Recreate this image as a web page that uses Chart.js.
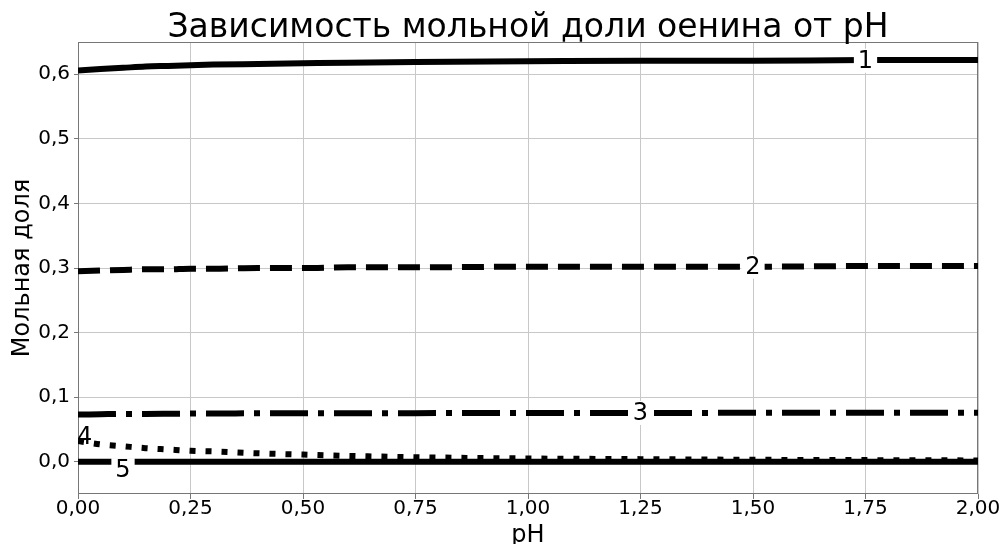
<!DOCTYPE html>
<html>
<head>
<meta charset="utf-8">
<script src="https://cdn.jsdelivr.net/npm/chart.js@4/dist/chart.umd.min.js"></script>
<style>
html,body{margin:0;padding:0;background:#fff;}
#wrap{width:1007px;height:544px;position:relative;}
</style>
</head>
<body>
<div id="wrap"><canvas id="c" width="1007" height="544"></canvas></div>
<script>
// ---- data ----
const phValues = [0, 0.05, 0.1, 0.15, 0.2, 0.25, 0.3, 0.4, 0.5, 0.6, 0.75, 1.0, 1.25, 1.5, 1.75, 2.0];
const series1 = [0.606, 0.608, 0.610, 0.612, 0.613, 0.614, 0.615, 0.616, 0.617, 0.618, 0.619, 0.620, 0.621, 0.621, 0.622, 0.622];
const series2 = [0.295, 0.296, 0.297, 0.298, 0.298, 0.299, 0.299, 0.300, 0.300, 0.301, 0.301, 0.302, 0.302, 0.302, 0.303, 0.303];
const series3 = [0.073, 0.0735, 0.074, 0.074, 0.0742, 0.0745, 0.0745, 0.075, 0.075, 0.075, 0.0752, 0.0755, 0.0755, 0.0757, 0.0757, 0.0758];
const series4 = [0.032, 0.027, 0.024, 0.021, 0.019, 0.017, 0.016, 0.013, 0.011, 0.009, 0.007, 0.005, 0.004, 0.003, 0.0025, 0.002];
const series5 = [0, 0, 0, 0, 0, 0, 0, 0, 0, 0, 0, 0, 0, 0, 0, 0];
const seriesNames = ['1', '2', '3', '4', '5'];
const xTicks = [0, 0.25, 0.5, 0.75, 1.0, 1.25, 1.5, 1.75, 2.0];
const yTicks = [0, 0.1, 0.2, 0.3, 0.4, 0.5, 0.6];
const titleText = 'Зависимость мольной доли оенина от pH';
// inline label anchors (data coords)
const labelX = [1.75, 1.5, 1.25, 0.015, 0.1];
const labelY = [0.621, 0.302, 0.0755, 0.038, -0.013];

const FONT = "'DejaVu Sans', sans-serif";
const toPts = ys => phValues.map((x, i) => ({x: x, y: ys[i]}));
const allSeries = [series1, series2, series3, series4, series5];
const dashes = [[], [22, 10], [38, 10, 6, 10], [6, 10], []];

const datasets = allSeries.map((s, i) => ({
  label: seriesNames[i],
  data: toPts(s),
  borderColor: '#000',
  borderWidth: 6,
  borderDash: dashes[i],
  borderCapStyle: 'butt',
  pointRadius: 0,
  fill: false,
  cubicInterpolationMode: 'monotone'
}));

const frame = {
  id: 'frame',
  beforeDatasetsDraw(chart) {
    const {ctx, chartArea: a} = chart;
    ctx.save();
    ctx.strokeStyle = '#777';
    ctx.lineWidth = 1;
    ctx.strokeRect(a.left + 0.5, a.top + 0.5, a.right - a.left - 1, a.bottom - a.top - 1);
    ctx.restore();
  }
};

const plotTitle = {
  id: 'plotTitle',
  afterDraw(chart) {
    const {ctx, chartArea: a} = chart;
    ctx.save();
    ctx.font = '33px ' + FONT;
    ctx.fillStyle = '#000';
    ctx.textAlign = 'center';
    ctx.textBaseline = 'alphabetic';
    ctx.fillText(titleText, (a.left + a.right) / 2, 37);
    ctx.restore();
  }
};

const inlineLabels = {
  id: 'inlineLabels',
  afterDatasetsDraw(chart) {
    const {ctx} = chart;
    const xs = chart.scales.x, ys = chart.scales.y;
    ctx.save();
    ctx.font = '24px ' + FONT;
    ctx.textAlign = 'center';
    ctx.textBaseline = 'middle';
    seriesNames.forEach((t, i) => {
      const px = xs.getPixelForValue(labelX[i]);
      const py = ys.getPixelForValue(labelY[i]);
      const w = ctx.measureText(t).width;
      if (i !== 3) {
        ctx.fillStyle = '#fff';
        ctx.fillRect(px - w / 2 - 4, py - 12, w + 8, 24);
      }
      ctx.fillStyle = '#000';
      ctx.fillText(t, px, py + 1);
    });
    ctx.restore();
  }
};

new Chart(document.getElementById('c'), {
  type: 'line',
  data: {datasets},
  options: {
    responsive: false,
    animation: false,
    layout: {padding: {left: 0, right: 29, top: 42, bottom: 0}},
    plugins: {
      legend: {display: false},
      tooltip: {enabled: false},
      title: {display: false}
    },
    scales: {
      x: {
        type: 'linear',
        min: 0, max: 2,
        afterBuildTicks: s => { s.ticks = xTicks.map(v => ({value: v})); },
        afterFit: s => { s.height = 50; },
        ticks: {
          color: '#000',
          font: {family: FONT, size: 20},
          padding: -2,
          maxRotation: 0,
          callback: v => v.toFixed(2).replace('.', ',')
        },
        grid: {color: '#c8c8c8', lineWidth: 1, tickLength: 5, tickColor: '#777'},
        border: {display: false},
        title: {display: true, text: 'pH', color: '#000', font: {family: FONT, size: 24}, padding: {top: -4, bottom: -6}}
      },
      y: {
        type: 'linear',
        min: -0.05, max: 0.65,
        afterBuildTicks: s => { s.ticks = yTicks.map(v => ({value: v})); },
        afterFit: s => { s.width = 78; },
        ticks: {
          color: '#000',
          font: {family: FONT, size: 20},
          padding: 4,
          callback: v => v.toFixed(1).replace('.', ',')
        },
        grid: {color: '#c8c8c8', lineWidth: 1, tickLength: 4, tickColor: '#777'},
        border: {display: false},
        title: {display: true, text: 'Мольная доля', color: '#000', font: {family: FONT, size: 24}, padding: {top: 8, bottom: 0}}
      }
    }
  },
  plugins: [frame, plotTitle, inlineLabels]
});
</script>
</body>
</html>
